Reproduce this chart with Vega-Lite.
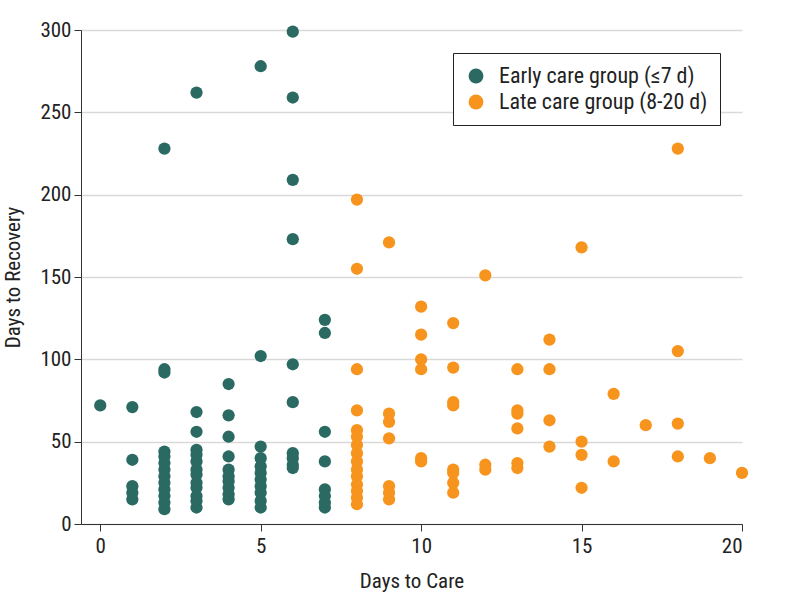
{
  "$schema": "https://vega.github.io/schema/vega-lite/v6.json",
  "autosize": "none",
  "width": 661,
  "height": 494,
  "padding": {"left": 81, "top": 30, "right": 56, "bottom": 85},
  "background": "white",
  "config": {
    "font": "Liberation Sans Narrow, Roboto Condensed, Roboto, sans-serif",
    "view": {"stroke": null}
  },
  "data": {
    "values": [
      {"care": 0, "recovery": 72, "group": "Early care group (≤7 d)"},
      {"care": 1, "recovery": 71, "group": "Early care group (≤7 d)"},
      {"care": 1, "recovery": 39, "group": "Early care group (≤7 d)"},
      {"care": 1, "recovery": 23, "group": "Early care group (≤7 d)"},
      {"care": 1, "recovery": 19, "group": "Early care group (≤7 d)"},
      {"care": 1, "recovery": 15, "group": "Early care group (≤7 d)"},
      {"care": 2, "recovery": 228, "group": "Early care group (≤7 d)"},
      {"care": 2, "recovery": 94, "group": "Early care group (≤7 d)"},
      {"care": 2, "recovery": 92, "group": "Early care group (≤7 d)"},
      {"care": 2, "recovery": 44, "group": "Early care group (≤7 d)"},
      {"care": 2, "recovery": 41, "group": "Early care group (≤7 d)"},
      {"care": 2, "recovery": 37, "group": "Early care group (≤7 d)"},
      {"care": 2, "recovery": 33, "group": "Early care group (≤7 d)"},
      {"care": 2, "recovery": 29, "group": "Early care group (≤7 d)"},
      {"care": 2, "recovery": 25, "group": "Early care group (≤7 d)"},
      {"care": 2, "recovery": 21, "group": "Early care group (≤7 d)"},
      {"care": 2, "recovery": 17, "group": "Early care group (≤7 d)"},
      {"care": 2, "recovery": 13, "group": "Early care group (≤7 d)"},
      {"care": 2, "recovery": 9, "group": "Early care group (≤7 d)"},
      {"care": 3, "recovery": 262, "group": "Early care group (≤7 d)"},
      {"care": 3, "recovery": 68, "group": "Early care group (≤7 d)"},
      {"care": 3, "recovery": 56, "group": "Early care group (≤7 d)"},
      {"care": 3, "recovery": 45, "group": "Early care group (≤7 d)"},
      {"care": 3, "recovery": 42, "group": "Early care group (≤7 d)"},
      {"care": 3, "recovery": 38, "group": "Early care group (≤7 d)"},
      {"care": 3, "recovery": 33, "group": "Early care group (≤7 d)"},
      {"care": 3, "recovery": 30, "group": "Early care group (≤7 d)"},
      {"care": 3, "recovery": 25, "group": "Early care group (≤7 d)"},
      {"care": 3, "recovery": 22, "group": "Early care group (≤7 d)"},
      {"care": 3, "recovery": 17, "group": "Early care group (≤7 d)"},
      {"care": 3, "recovery": 14, "group": "Early care group (≤7 d)"},
      {"care": 3, "recovery": 10, "group": "Early care group (≤7 d)"},
      {"care": 4, "recovery": 85, "group": "Early care group (≤7 d)"},
      {"care": 4, "recovery": 66, "group": "Early care group (≤7 d)"},
      {"care": 4, "recovery": 53, "group": "Early care group (≤7 d)"},
      {"care": 4, "recovery": 41, "group": "Early care group (≤7 d)"},
      {"care": 4, "recovery": 33, "group": "Early care group (≤7 d)"},
      {"care": 4, "recovery": 29, "group": "Early care group (≤7 d)"},
      {"care": 4, "recovery": 26, "group": "Early care group (≤7 d)"},
      {"care": 4, "recovery": 22, "group": "Early care group (≤7 d)"},
      {"care": 4, "recovery": 18, "group": "Early care group (≤7 d)"},
      {"care": 4, "recovery": 15, "group": "Early care group (≤7 d)"},
      {"care": 5, "recovery": 278, "group": "Early care group (≤7 d)"},
      {"care": 5, "recovery": 102, "group": "Early care group (≤7 d)"},
      {"care": 5, "recovery": 47, "group": "Early care group (≤7 d)"},
      {"care": 5, "recovery": 40, "group": "Early care group (≤7 d)"},
      {"care": 5, "recovery": 35, "group": "Early care group (≤7 d)"},
      {"care": 5, "recovery": 31, "group": "Early care group (≤7 d)"},
      {"care": 5, "recovery": 27, "group": "Early care group (≤7 d)"},
      {"care": 5, "recovery": 23, "group": "Early care group (≤7 d)"},
      {"care": 5, "recovery": 19, "group": "Early care group (≤7 d)"},
      {"care": 5, "recovery": 14, "group": "Early care group (≤7 d)"},
      {"care": 5, "recovery": 10, "group": "Early care group (≤7 d)"},
      {"care": 6, "recovery": 299, "group": "Early care group (≤7 d)"},
      {"care": 6, "recovery": 259, "group": "Early care group (≤7 d)"},
      {"care": 6, "recovery": 209, "group": "Early care group (≤7 d)"},
      {"care": 6, "recovery": 173, "group": "Early care group (≤7 d)"},
      {"care": 6, "recovery": 97, "group": "Early care group (≤7 d)"},
      {"care": 6, "recovery": 74, "group": "Early care group (≤7 d)"},
      {"care": 6, "recovery": 43, "group": "Early care group (≤7 d)"},
      {"care": 6, "recovery": 40, "group": "Early care group (≤7 d)"},
      {"care": 6, "recovery": 36, "group": "Early care group (≤7 d)"},
      {"care": 6, "recovery": 34, "group": "Early care group (≤7 d)"},
      {"care": 7, "recovery": 124, "group": "Early care group (≤7 d)"},
      {"care": 7, "recovery": 116, "group": "Early care group (≤7 d)"},
      {"care": 7, "recovery": 56, "group": "Early care group (≤7 d)"},
      {"care": 7, "recovery": 38, "group": "Early care group (≤7 d)"},
      {"care": 7, "recovery": 21, "group": "Early care group (≤7 d)"},
      {"care": 7, "recovery": 17, "group": "Early care group (≤7 d)"},
      {"care": 7, "recovery": 13, "group": "Early care group (≤7 d)"},
      {"care": 7, "recovery": 10, "group": "Early care group (≤7 d)"},
      {"care": 8, "recovery": 197, "group": "Late care group (8-20 d)"},
      {"care": 8, "recovery": 155, "group": "Late care group (8-20 d)"},
      {"care": 8, "recovery": 94, "group": "Late care group (8-20 d)"},
      {"care": 8, "recovery": 69, "group": "Late care group (8-20 d)"},
      {"care": 8, "recovery": 57, "group": "Late care group (8-20 d)"},
      {"care": 8, "recovery": 53, "group": "Late care group (8-20 d)"},
      {"care": 8, "recovery": 48, "group": "Late care group (8-20 d)"},
      {"care": 8, "recovery": 43, "group": "Late care group (8-20 d)"},
      {"care": 8, "recovery": 38, "group": "Late care group (8-20 d)"},
      {"care": 8, "recovery": 33, "group": "Late care group (8-20 d)"},
      {"care": 8, "recovery": 29, "group": "Late care group (8-20 d)"},
      {"care": 8, "recovery": 24, "group": "Late care group (8-20 d)"},
      {"care": 8, "recovery": 20, "group": "Late care group (8-20 d)"},
      {"care": 8, "recovery": 16, "group": "Late care group (8-20 d)"},
      {"care": 8, "recovery": 12, "group": "Late care group (8-20 d)"},
      {"care": 9, "recovery": 171, "group": "Late care group (8-20 d)"},
      {"care": 9, "recovery": 67, "group": "Late care group (8-20 d)"},
      {"care": 9, "recovery": 62, "group": "Late care group (8-20 d)"},
      {"care": 9, "recovery": 52, "group": "Late care group (8-20 d)"},
      {"care": 9, "recovery": 23, "group": "Late care group (8-20 d)"},
      {"care": 9, "recovery": 19, "group": "Late care group (8-20 d)"},
      {"care": 9, "recovery": 15, "group": "Late care group (8-20 d)"},
      {"care": 10, "recovery": 132, "group": "Late care group (8-20 d)"},
      {"care": 10, "recovery": 115, "group": "Late care group (8-20 d)"},
      {"care": 10, "recovery": 100, "group": "Late care group (8-20 d)"},
      {"care": 10, "recovery": 94, "group": "Late care group (8-20 d)"},
      {"care": 10, "recovery": 40, "group": "Late care group (8-20 d)"},
      {"care": 10, "recovery": 38, "group": "Late care group (8-20 d)"},
      {"care": 11, "recovery": 122, "group": "Late care group (8-20 d)"},
      {"care": 11, "recovery": 95, "group": "Late care group (8-20 d)"},
      {"care": 11, "recovery": 74, "group": "Late care group (8-20 d)"},
      {"care": 11, "recovery": 72, "group": "Late care group (8-20 d)"},
      {"care": 11, "recovery": 33, "group": "Late care group (8-20 d)"},
      {"care": 11, "recovery": 31, "group": "Late care group (8-20 d)"},
      {"care": 11, "recovery": 25, "group": "Late care group (8-20 d)"},
      {"care": 11, "recovery": 19, "group": "Late care group (8-20 d)"},
      {"care": 12, "recovery": 151, "group": "Late care group (8-20 d)"},
      {"care": 12, "recovery": 36, "group": "Late care group (8-20 d)"},
      {"care": 12, "recovery": 33, "group": "Late care group (8-20 d)"},
      {"care": 13, "recovery": 94, "group": "Late care group (8-20 d)"},
      {"care": 13, "recovery": 69, "group": "Late care group (8-20 d)"},
      {"care": 13, "recovery": 67, "group": "Late care group (8-20 d)"},
      {"care": 13, "recovery": 58, "group": "Late care group (8-20 d)"},
      {"care": 13, "recovery": 37, "group": "Late care group (8-20 d)"},
      {"care": 13, "recovery": 34, "group": "Late care group (8-20 d)"},
      {"care": 14, "recovery": 112, "group": "Late care group (8-20 d)"},
      {"care": 14, "recovery": 94, "group": "Late care group (8-20 d)"},
      {"care": 14, "recovery": 63, "group": "Late care group (8-20 d)"},
      {"care": 14, "recovery": 47, "group": "Late care group (8-20 d)"},
      {"care": 15, "recovery": 168, "group": "Late care group (8-20 d)"},
      {"care": 15, "recovery": 50, "group": "Late care group (8-20 d)"},
      {"care": 15, "recovery": 42, "group": "Late care group (8-20 d)"},
      {"care": 15, "recovery": 22, "group": "Late care group (8-20 d)"},
      {"care": 16, "recovery": 79, "group": "Late care group (8-20 d)"},
      {"care": 16, "recovery": 38, "group": "Late care group (8-20 d)"},
      {"care": 17, "recovery": 60, "group": "Late care group (8-20 d)"},
      {"care": 18, "recovery": 228, "group": "Late care group (8-20 d)"},
      {"care": 18, "recovery": 105, "group": "Late care group (8-20 d)"},
      {"care": 18, "recovery": 61, "group": "Late care group (8-20 d)"},
      {"care": 18, "recovery": 41, "group": "Late care group (8-20 d)"},
      {"care": 19, "recovery": 40, "group": "Late care group (8-20 d)"},
      {"care": 20, "recovery": 31, "group": "Late care group (8-20 d)"}
    ]
  },
  "mark": {"type": "point", "filled": true, "opacity": 1, "size": 150},
  "encoding": {
    "x": {
      "field": "care",
      "type": "quantitative",
      "scale": {"domain": [-0.6, 20], "nice": false, "zero": false},
      "axis": {
        "title": "Days to Care",
        "values": [0, 5, 10, 15, 20],
        "grid": false,
        "domainColor": "#333333",
        "tickColor": "#333333",
        "tickSize": 7,
        "labelFontSize": 21,
        "labelColor": "#222222",
        "labelPadding": 4,
        "titleFontSize": 21,
        "titleFontWeight": "normal",
        "titleColor": "#222222",
        "titlePadding": 14
      }
    },
    "y": {
      "field": "recovery",
      "type": "quantitative",
      "scale": {"domain": [0, 300], "nice": false},
      "axis": {
        "title": "Days to Recovery",
        "values": [0, 50, 100, 150, 200, 250, 300],
        "grid": true,
        "gridColor": "#d9d9d9",
        "gridWidth": 1.5,
        "domainColor": "#333333",
        "tickColor": "#333333",
        "tickSize": 7,
        "labelFontSize": 21,
        "labelColor": "#222222",
        "labelPadding": 3,
        "titleFontSize": 21,
        "titleFontWeight": "normal",
        "titleColor": "#222222",
        "titlePadding": 16
      }
    },
    "color": {
      "field": "group",
      "type": "nominal",
      "scale": {
        "domain": ["Early care group (≤7 d)", "Late care group (8-20 d)"],
        "range": ["#2a6a62", "#f7941d"]
      },
      "legend": {
        "title": null,
        "orient": "none",
        "legendX": 372,
        "legendY": 23,
        "strokeColor": "#222222",
        "fillColor": "white",
        "padding": 12,
        "labelFontSize": 22,
        "labelColor": "#222222",
        "symbolSize": 220,
        "symbolType": "circle",
        "symbolOpacity": 1,
        "rowPadding": 4,
        "labelOffset": 12,
        "labelLimit": 400
      }
    }
  }
}
